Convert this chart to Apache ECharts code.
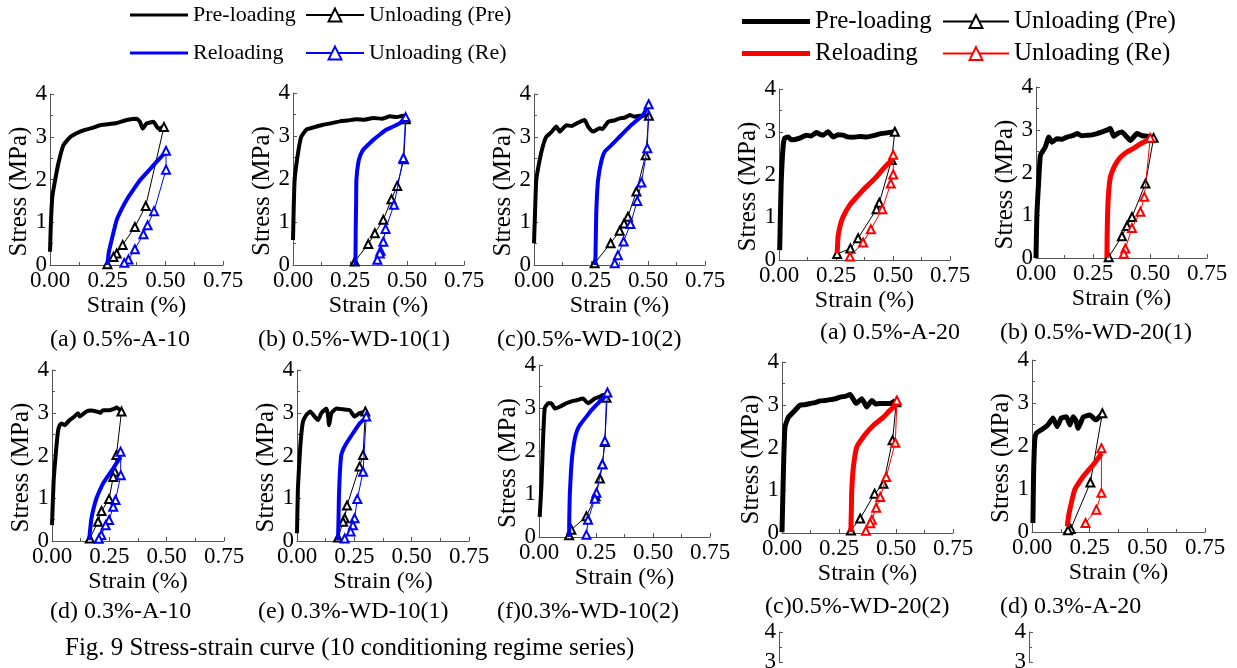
<!DOCTYPE html>
<html><head><meta charset="utf-8">
<script src="https://cdn.jsdelivr.net/npm/echarts@6/dist/echarts.min.js"></script>
<style>html,body{margin:0;padding:0;background:#fff}#c{width:1237px;height:668px}</style>
</head><body><div id="c"></div>
<script>
// ---------- tick labels ----------
const xTickLabels = ['0.00','0.25','0.50','0.75'];
const yTickLabels = ['0','1','2','3','4'];
const yTickLabelsPartial = ['3','4'];

// ---------- (a) 0.5%-A-10 ----------
const preA10 = [[0,0.31],[0.004,1.0],[0.01,1.6],[0.022,1.98],[0.036,2.37],[0.058,2.8],[0.087,2.99],[0.115,3.08],[0.145,3.15],[0.18,3.2],[0.217,3.27],[0.25,3.29],[0.289,3.32],[0.332,3.39],[0.376,3.42],[0.39,3.35],[0.402,3.19],[0.419,3.31],[0.448,3.35],[0.47,3.19],[0.494,3.23]];
const unPreA10 = [[0.494,3.23],[0.415,1.38],[0.368,0.89],[0.315,0.47],[0.289,0.27],[0.275,0.19],[0.249,0.02]];
const reA10 = [[0.249,0],[0.255,0.3],[0.267,0.58],[0.289,1.05],[0.31,1.3],[0.332,1.52],[0.36,1.75],[0.39,1.98],[0.42,2.16],[0.448,2.33],[0.475,2.49],[0.498,2.62]];
const unReA10 = [[0.503,2.67],[0.503,2.23],[0.451,1.26],[0.423,0.93],[0.405,0.72],[0.368,0.37],[0.34,0.13],[0.322,0.05]];

// ---------- (b) 0.5%-WD-10(1) ----------
const preWD101 = [[0,0.58],[0.003,1.3],[0.007,1.98],[0.015,2.35],[0.022,2.6],[0.03,2.85],[0.037,2.99],[0.059,3.15],[0.09,3.2],[0.132,3.26],[0.17,3.3],[0.205,3.34],[0.24,3.36],[0.278,3.39],[0.315,3.38],[0.352,3.42],[0.39,3.4],[0.425,3.46],[0.455,3.44],[0.483,3.47],[0.495,3.42]];
const unPreWD101 = [[0.495,3.39],[0.486,2.46],[0.457,1.84],[0.432,1.53],[0.396,1.05],[0.359,0.74],[0.33,0.49],[0.271,0.08]];
const reWD101 = [[0.274,0],[0.275,0.8],[0.277,1.5],[0.278,1.98],[0.286,2.37],[0.295,2.55],[0.308,2.68],[0.33,2.8],[0.352,2.91],[0.38,3.03],[0.41,3.15],[0.44,3.22],[0.469,3.3],[0.494,3.44]];
const unReWD101 = [[0.494,3.44],[0.484,2.49],[0.443,1.4],[0.406,0.84],[0.396,0.54],[0.384,0.33],[0.381,0.27],[0.37,0.12]];

// ---------- (c) 0.5%-WD-10(2) ----------
const preWD102 = [[0,0.51],[0.005,1.3],[0.01,1.99],[0.025,2.46],[0.04,2.8],[0.054,3.0],[0.075,3.1],[0.098,3.24],[0.113,3.12],[0.142,3.27],[0.165,3.25],[0.186,3.31],[0.222,3.39],[0.237,3.24],[0.259,3.12],[0.288,3.2],[0.3,3.18],[0.325,3.35],[0.35,3.38],[0.376,3.43],[0.4,3.45],[0.42,3.51],[0.44,3.47],[0.463,3.49],[0.5,3.49]];
const unPreWD102 = [[0.504,3.49],[0.49,2.57],[0.449,1.72],[0.412,1.13],[0.395,0.97],[0.376,0.8],[0.336,0.51],[0.266,0.04]];
const reWD102 = [[0.269,0],[0.271,0.6],[0.273,1.21],[0.276,1.6],[0.281,1.99],[0.295,2.42],[0.31,2.65],[0.335,2.78],[0.361,2.92],[0.39,3.08],[0.42,3.24],[0.45,3.38],[0.478,3.51],[0.5,3.72]];
const unReWD102 = [[0.503,3.76],[0.497,2.73],[0.471,1.93],[0.453,1.5],[0.423,0.96],[0.393,0.55],[0.368,0.23],[0.354,0.04]];

// ---------- (d) 0.3%-A-10 ----------
const preA10s = [[0,0.37],[0.007,1.39],[0.016,2.01],[0.026,2.56],[0.033,2.7],[0.041,2.75],[0.055,2.71],[0.077,2.83],[0.095,2.9],[0.114,2.99],[0.121,2.91],[0.15,3.03],[0.17,3.05],[0.194,3.03],[0.21,3.0],[0.223,3.06],[0.252,3.06],[0.27,3.09],[0.281,3.12],[0.303,3.03]];
const unPreA10s = [[0.303,3.03],[0.281,2.01],[0.274,1.62],[0.267,1.5],[0.249,0.98],[0.216,0.7],[0.201,0.45],[0.165,0.06]];
const reA10s = [[0.162,0.02],[0.166,0.25],[0.172,0.53],[0.182,0.78],[0.194,1.0],[0.208,1.18],[0.223,1.35],[0.245,1.53],[0.267,1.7],[0.299,1.97]];
const unReA10s = [[0.299,2.09],[0.3,1.54],[0.277,0.96],[0.267,0.8],[0.249,0.49],[0.234,0.37],[0.215,0.14],[0.204,0.05]];

// ---------- (e) 0.3%-WD-10(1) ----------
const preWD101s = [[0,0.18],[0.004,1.23],[0.012,2.01],[0.018,2.45],[0.026,2.79],[0.041,2.95],[0.058,3.03],[0.077,2.91],[0.092,2.83],[0.106,2.99],[0.128,3.1],[0.135,2.95],[0.14,2.71],[0.15,2.99],[0.172,3.1],[0.201,3.08],[0.23,3.06],[0.251,2.91],[0.273,2.99],[0.295,3.01]];
const unPreWD101s = [[0.298,3.03],[0.288,2.01],[0.273,1.74],[0.218,0.83],[0.208,0.53],[0.201,0.45],[0.179,0.08]];
const reWD101s = [[0.179,0.02],[0.181,0.5],[0.183,1.08],[0.187,1.6],[0.193,2.01],[0.203,2.16],[0.215,2.28],[0.244,2.52],[0.273,2.75],[0.299,2.87]];
const unReWD101s = [[0.302,2.91],[0.288,1.62],[0.263,0.98],[0.251,0.53],[0.244,0.37],[0.234,0.22],[0.208,0.06]];

// ---------- (f) 0.3%-WD-10(2) ----------
const preWD102s = [[0.003,0.47],[0.01,1.13],[0.014,1.7],[0.018,2.29],[0.025,2.99],[0.04,3.11],[0.054,3.11],[0.069,2.99],[0.091,3.03],[0.12,3.11],[0.14,3.15],[0.164,3.18],[0.193,3.22],[0.215,3.11],[0.245,3.22],[0.265,3.26],[0.281,3.3],[0.296,3.29]];
const unPreWD102s = [[0.296,3.24],[0.289,2.21],[0.278,1.69],[0.267,1.36],[0.248,0.95],[0.208,0.48],[0.142,0.17],[0.132,0.04]];
const reWD102s = [[0.132,0],[0.133,0.5],[0.135,0.97],[0.14,1.5],[0.146,1.9],[0.157,2.29],[0.167,2.47],[0.179,2.6],[0.208,2.8],[0.23,2.95],[0.252,3.07],[0.275,3.2],[0.299,3.32]];
const unReWD102s = [[0.3,3.36],[0.289,2.23],[0.278,1.69],[0.252,1.03],[0.245,0.89],[0.215,0.4],[0.208,0.05]];

// ---------- (a) 0.5%-A-20 ----------
const preA20 = [[0.003,0.23],[0.006,1.0],[0.01,1.87],[0.018,2.65],[0.025,2.85],[0.04,2.88],[0.054,2.81],[0.07,2.82],[0.091,2.85],[0.12,2.92],[0.14,2.9],[0.164,2.98],[0.18,2.94],[0.193,2.92],[0.215,3.0],[0.237,2.88],[0.26,2.93],[0.281,2.92],[0.3,2.88],[0.325,2.87],[0.355,2.89],[0.384,2.88],[0.415,2.91],[0.442,2.95],[0.479,2.98],[0.508,3.0]];
const unPreA20 = [[0.508,3.0],[0.494,2.34],[0.44,1.34],[0.428,1.19],[0.347,0.51],[0.313,0.27],[0.255,0.14]];
const reA20 = [[0.255,0.16],[0.257,0.35],[0.259,0.55],[0.268,0.8],[0.281,1.01],[0.311,1.29],[0.34,1.47],[0.369,1.64],[0.4,1.8],[0.428,1.95],[0.46,2.15],[0.494,2.34],[0.501,2.46]];
const unReA20 = [[0.501,2.46],[0.501,2.0],[0.49,1.79],[0.453,1.19],[0.403,0.72],[0.369,0.41],[0.311,0.08]];

// ---------- (b) 0.5%-WD-20(1) ----------
const preWD201 = [[0,0],[0.004,1.04],[0.012,1.82],[0.019,2.4],[0.03,2.5],[0.041,2.6],[0.056,2.83],[0.07,2.71],[0.092,2.79],[0.115,2.78],[0.136,2.83],[0.16,2.86],[0.18,2.91],[0.2,2.86],[0.224,2.87],[0.245,2.88],[0.268,2.91],[0.29,2.95],[0.311,2.99],[0.326,3.03],[0.341,2.85],[0.36,2.92],[0.377,2.95],[0.395,2.85],[0.414,2.75],[0.443,2.91],[0.465,2.86],[0.487,2.85],[0.509,2.83]];
const unPreWD201 = [[0.516,2.81],[0.48,1.74],[0.421,0.96],[0.399,0.75],[0.377,0.51],[0.319,0.02]];
const reWD201 = [[0.311,0],[0.312,0.5],[0.314,1.04],[0.318,1.5],[0.326,1.89],[0.34,2.1],[0.355,2.25],[0.375,2.38],[0.399,2.48],[0.43,2.57],[0.458,2.67],[0.501,2.79]];
const unReWD201 = [[0.501,2.81],[0.475,1.43],[0.458,1.08],[0.421,0.7],[0.392,0.22],[0.385,0.1]];

// ---------- (c) 0.5%-WD-20(2) ----------
const preWD202 = [[0,0.02],[0.006,1.39],[0.013,2.48],[0.028,2.71],[0.05,2.83],[0.079,2.99],[0.1,3.0],[0.123,3.03],[0.145,3.05],[0.167,3.09],[0.19,3.1],[0.211,3.12],[0.235,3.14],[0.255,3.18],[0.28,3.2],[0.299,3.24],[0.325,3.03],[0.35,3.14],[0.372,2.95],[0.394,3.1],[0.41,3.02],[0.431,3.03],[0.46,3.03],[0.48,3.04],[0.497,3.1]];
const unPreWD202 = [[0.501,3.06],[0.485,2.17],[0.445,1.15],[0.406,0.92],[0.343,0.34],[0.302,0.06]];
const reWD202 = [[0.302,0.02],[0.304,0.5],[0.306,1.0],[0.313,1.54],[0.328,2.01],[0.357,2.25],[0.38,2.4],[0.401,2.52],[0.445,2.71],[0.47,2.85],[0.499,2.99]];
const unReWD202 = [[0.504,3.1],[0.497,2.11],[0.457,1.31],[0.431,0.84],[0.413,0.59],[0.394,0.31],[0.387,0.23],[0.368,0.05]];

// ---------- (d) 0.3%-A-20 ----------
const preA20s = [[0.004,0.21],[0.007,1.37],[0.012,2.14],[0.019,2.3],[0.041,2.38],[0.055,2.43],[0.069,2.49],[0.091,2.65],[0.109,2.45],[0.127,2.65],[0.149,2.68],[0.164,2.49],[0.178,2.68],[0.19,2.6],[0.2,2.41],[0.222,2.67],[0.25,2.72],[0.277,2.61],[0.305,2.75]];
const unPreA20s = [[0.305,2.76],[0.253,1.15],[0.168,0.07],[0.156,0.04]];
const reA20s = [[0.153,0.13],[0.158,0.35],[0.164,0.52],[0.175,0.78],[0.185,0.98],[0.2,1.12],[0.222,1.29],[0.245,1.44],[0.265,1.56],[0.285,1.7],[0.301,1.83]];
const unReA20s = [[0.301,1.95],[0.301,0.91],[0.279,0.52],[0.232,0.21]];

// ---------- captions ----------
const captions = ['(a) 0.5%-A-10','(b) 0.5%-WD-10(1)','(c)0.5%-WD-10(2)','(d) 0.3%-A-10','(e) 0.3%-WD-10(1)','(f)0.3%-WD-10(2)','(a) 0.5%-A-20','(b) 0.5%-WD-20(1)','(c)0.5%-WD-20(2)','(d) 0.3%-A-20'];
const figCaption = 'Fig. 9 Stress-strain curve (10 conditioning regime series)';
const seriesNames = ['Pre-loading','Unloading (Pre)','Reloading','Unloading (Re)'];

// ---------- layout ----------
const FONT = 'Liberation Serif';
const BLUE = '#0000FF', RED = '#FF0000';
const panels = [
  {box:[50,94,173,171], d:[preA10,unPreA10,reA10,unReA10], right:false},
  {box:[293,93,171,172], d:[preWD101,unPreWD101,reWD101,unReWD101], right:false},
  {box:[534,94,171,171], d:[preWD102,unPreWD102,reWD102,unReWD102], right:false},
  {box:[52,370,172,171], d:[preA10s,unPreA10s,reA10s,unReA10s], right:false},
  {box:[297,370,172,171], d:[preWD101s,unPreWD101s,reWD101s,unReWD101s], right:false},
  {box:[539,365,171,172], d:[preWD102s,unPreWD102s,reWD102s,unReWD102s], right:false},
  {box:[779,89,171,171], d:[preA20,unPreA20,reA20,unReA20], right:true},
  {box:[1036,87,171,171], d:[preWD201,unPreWD201,reWD201,unReWD201], right:true},
  {box:[782,362,171,171], d:[preWD202,unPreWD202,reWD202,unReWD202], right:true},
  {box:[1032,360,173,172], d:[preA20s,unPreA20s,reA20s,unReA20s], right:true},
  {box:[779,632,171,30], d:null, right:true},
  {box:[1029,632,171,30], d:null, right:true}
];
const captionPos = [[50,328],[258,328],[497,328],[50,600],[258,600],[497,600],[820,321],[1000,321],[765,595],[1000,595]];

const grid=[], xAxis=[], yAxis=[], series=[];
const axisColor = '#555';
panels.forEach((p,i)=>{
  const partial = !p.d;
  grid.push({left:p.box[0], top:p.box[1], width:p.box[2], height:p.box[3], containLabel:false, outerBoundsMode:'none'});
  xAxis.push({gridIndex:i, type:'value', min:0, max:0.75, interval:0.25, show:!partial,
    name:'Strain (%)', nameLocation:'middle', nameGap:29,
    nameTextStyle:{fontFamily:FONT, fontSize:24, color:'#000'},
    axisLine:{onZero:false, lineStyle:{color:axisColor, width:1}},
    axisTick:{inside:true, length:4, lineStyle:{color:axisColor}},
    minorTick:{show:true, splitNumber:2, length:3, lineStyle:{color:axisColor}},
    splitLine:{show:false},
    axisLabel:{fontFamily:FONT, fontSize:23, color:'#000', margin:4, formatter:(v,k)=>xTickLabels[k]}
  });
  yAxis.push({gridIndex:i, type:'value', min:partial?3:0, max:4, interval:1,
    name:partial?'':'Stress (MPa)', nameLocation:'middle', nameGap:17,
    nameTextStyle:{fontFamily:FONT, fontSize:25, color:'#000', padding:[0,24,0,0]},
    axisLine:{show:true, lineStyle:{color:axisColor, width:1}},
    axisTick:{inside:true, length:4, lineStyle:{color:axisColor}},
    minorTick:{show:true, splitNumber:2, length:3, lineStyle:{color:axisColor}},
    splitLine:{show:false},
    axisLabel:{fontFamily:FONT, fontSize:23, color:'#000', margin:3,
      formatter:(v,k)=>(partial?yTickLabelsPartial:yTickLabels)[k]}
  });
  if(partial) return;
  const col = p.right ? RED : BLUE;
  const sfx = p.right ? ' ' : '';
  const thick = p.right ? 5 : 4;
  series.push({type:'line', name:seriesNames[0]+sfx, xAxisIndex:i, yAxisIndex:i, data:p.d[0], symbol:'none', smooth:0.15,
    lineStyle:{color:'#000', width:thick}, itemStyle:{color:'#000'}, z:2});
  series.push({type:'line', name:seriesNames[1]+sfx, xAxisIndex:i, yAxisIndex:i, data:p.d[1], symbol:'emptyTriangle', symbolSize:8,
    lineStyle:{color:'#000', width:1}, itemStyle:{color:'#000', borderWidth:1}, z:3});
  series.push({type:'line', name:seriesNames[2]+sfx, xAxisIndex:i, yAxisIndex:i, data:p.d[2], symbol:'none', smooth:0.15,
    lineStyle:{color:col, width:thick}, itemStyle:{color:col}, z:4});
  series.push({type:'line', name:seriesNames[3]+sfx, xAxisIndex:i, yAxisIndex:i, data:p.d[3], symbol:'emptyTriangle', symbolSize:8,
    lineStyle:{color:col, width:1}, itemStyle:{color:col, borderWidth:1}, z:5});
});

const title = captions.map((t,i)=>({text:t, left:captionPos[i][0], top:captionPos[i][1], padding:0,
  textStyle:{fontFamily:FONT, fontSize:24, fontWeight:'normal', color:'#000'}}));
title.push({text:figCaption, left:65, top:636, padding:0, textStyle:{fontFamily:FONT, fontSize:25, fontWeight:'normal', color:'#000'}});

function lg(name, left, top, w, fs, lineIcon, thick){
  const item = lineIcon ? {name:name, icon:'rect'} : {name:name};
  return {data:[item], left:left, top:top, padding:0, itemWidth:w, itemHeight: lineIcon ? thick : 16, selectedMode:false,
    itemStyle:{borderWidth: lineIcon ? 0 : 2},
    textStyle:{fontFamily:FONT, fontSize:fs, lineHeight:fs, color:'#000'}};
}
const legend = [
  lg('Pre-loading',130,4,58,22,true,3), lg('Unloading (Pre)',305,4,58,22,false),
  lg('Reloading',130,42,58,22,true,3), lg('Unloading (Re)',305,42,58,22,false),
  lg('Pre-loading ',742,9,68,25,true,5), lg('Unloading (Pre) ',942,9,66,25,false),
  lg('Reloading ',742,41,68,25,true,5), lg('Unloading (Re) ',942,41,66,25,false)
];

const chart = echarts.init(document.getElementById('c'), null, {renderer:'canvas'});
chart.setOption({animation:false, backgroundColor:'#fff', textStyle:{fontFamily:FONT},
  title, legend, grid, xAxis, yAxis, series});
</script></body></html>
